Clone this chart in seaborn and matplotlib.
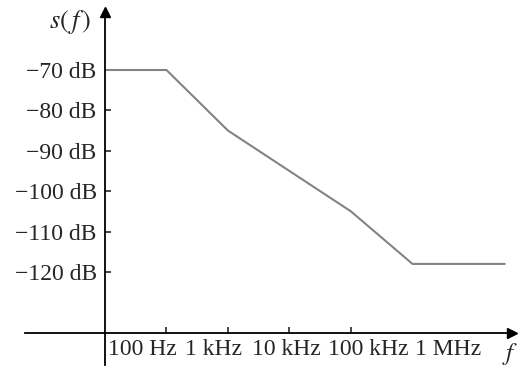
import numpy as np
import pandas as pd
import seaborn as sns
import matplotlib.pyplot as plt

# %% Data: noise spectral density corner points
freq_hz = [10, 100, 1e3, 1e4, 1e5, 1e6, 10**7.5]
s_db = [-70, -70, -85, -95, -105, -118, -118]
ytick_db = [-70, -80, -90, -100, -110, -120]
xtick_hz = [100, 1e3, 1e4, 1e5]
xlabels = ["100 Hz", "1 kHz", "10 kHz", "100 kHz", "1 MHz"]

df = pd.DataFrame({"f": freq_hz, "s": s_db})

# %% Style
sns.set_style("white")
plt.rcParams["font.family"] = ["Liberation Serif", "DejaVu Serif"]
plt.rcParams["mathtext.fontset"] = "stix"
fs = 17

fig = plt.figure(figsize=(5.19, 3.70), dpi=100)
ax = fig.add_axes([0, 0, 1, 1])
ax.set_xscale("log")
ax.set_xlim(10**-0.707, 10**7.732)
ax.set_ylim(-144.26, -52.67)

sns.lineplot(data=df, x="f", y="s", color="#878282", linewidth=1.5, ax=ax)

# axes as crossing lines with arrows
for side in ["top", "right"]:
    ax.spines[side].set_visible(False)
ax.spines["left"].set_position(("data", 10))
ax.spines["bottom"].set_position(("data", -135))
ax.spines["left"].set_bounds(-143, -56)
ax.spines["bottom"].set_bounds(10**-0.3, 10**7.6)
for sp in ["left", "bottom"]:
    ax.spines[sp].set_linewidth(1.3)
    ax.spines[sp].set_color("black")
ax.plot(10, -55.6, "^", color="black", markersize=7, clip_on=False)
ax.plot(10**7.62, -135, ">", color="black", markersize=7, clip_on=False)

ax.set_yticks(ytick_db, labels=[f"\u2212{abs(t)} dB" for t in ytick_db])
ax.set_xticks(xtick_hz, labels=[])
ax.xaxis.set_minor_locator(plt.NullLocator())
ax.tick_params(axis="y", direction="in", length=4, width=1.2, pad=6,
               labelsize=fs, left=True)
ax.tick_params(axis="x", direction="in", length=4, width=1.2, bottom=True)
ax.set_xlabel("")
ax.set_ylabel("")

# frequency labels placed in a row under the axis
label_x = [10**1.05, 10**2.30, 10**3.39, 10**4.63, 10**6.04]
for xl, txt in zip(label_x, xlabels):
    ax.text(xl, -136.5, txt, fontsize=fs, ha="left", va="top")

ax.text(10**0.43, -58.2, r"$s(\,f\,)$", fontsize=19, ha="center", va="center")
ax.text(10**7.58, -140.2, r"$f$", fontsize=18, ha="center", va="center")

fig.savefig("out.png", dpi=100)
